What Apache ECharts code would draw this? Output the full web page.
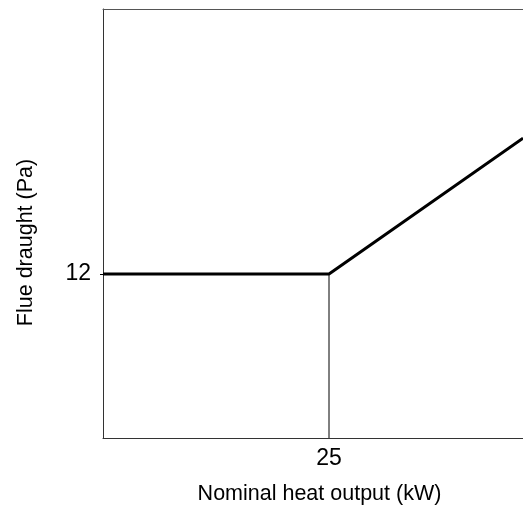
<!DOCTYPE html>
<html>
<head>
<meta charset="utf-8">
<script src="https://cdn.jsdelivr.net/npm/echarts@6/dist/echarts.min.js"></script>
<style>
html,body{margin:0;padding:0;background:#fff;}
#chart{width:523px;height:509px;}
</style>
</head>
<body>
<div id="chart"></div>
<script>
// Data
const xValues = [0, 25, 46.46];
const yValues = [12, 12, 21.95];
const guideX = [25, 25];
const guideY = [0, 12];
const xTickLabels = [25];
const yTickLabels = [12];
const xName = 'Nominal heat output (kW)';
const yName = 'Flue draught (Pa)';

const font = 'Liberation Sans, Arial, sans-serif';
const chart = echarts.init(document.getElementById('chart'), null, {renderer: 'canvas'});
chart.setOption({
  animation: false,
  backgroundColor: '#fff',
  grid: {left: 103, top: 9, right: 0, height: 429, show: false},
  xAxis: [{
    type: 'value', min: 0, max: 46.46,
    splitLine: {show: false},
    axisLine: {show: true, lineStyle: {color: '#333', width: 1}},
    axisTick: {show: false},
    axisLabel: {customValues: xTickLabels, color: '#000', fontSize: 23, fontFamily: font, margin: 9}
  }, {
    type: 'value', position: 'top', min: 0, max: 46.46,
    splitLine: {show: false},
    axisLine: {show: true, lineStyle: {color: '#555', width: 1}},
    axisTick: {show: false},
    axisLabel: {show: false}
  }],
  yAxis: {
    type: 'value', min: 0, max: 31.4,
    splitLine: {show: false},
    axisLine: {show: true, lineStyle: {color: '#333', width: 1}},
    axisTick: {show: true, customValues: yTickLabels, length: 3, lineStyle: {color: '#000'}},
    axisLabel: {customValues: yTickLabels, color: '#000', fontSize: 23, fontFamily: font, margin: 12}
  },
  graphic: [
    {type: 'text', x: 319.5, y: 494, style: {text: xName, font: '21.5px ' + font, fill: '#000', align: 'center', verticalAlign: 'middle'}},
    {type: 'text', rotation: Math.PI / 2, x: 26, y: 242.5, style: {text: yName, font: '21.5px ' + font, fill: '#000', align: 'center', verticalAlign: 'middle'}}
  ],
  series: [
    {
      type: 'line', symbol: 'none', clip: true,
      data: guideX.map((x, i) => [x, guideY[i]]),
      lineStyle: {color: '#000', width: 1}
    },
    {
      type: 'line', symbol: 'none', clip: true,
      data: xValues.map((x, i) => [x, yValues[i]]),
      lineStyle: {color: '#000', width: 3}
    }
  ]
});
</script>
</body>
</html>
